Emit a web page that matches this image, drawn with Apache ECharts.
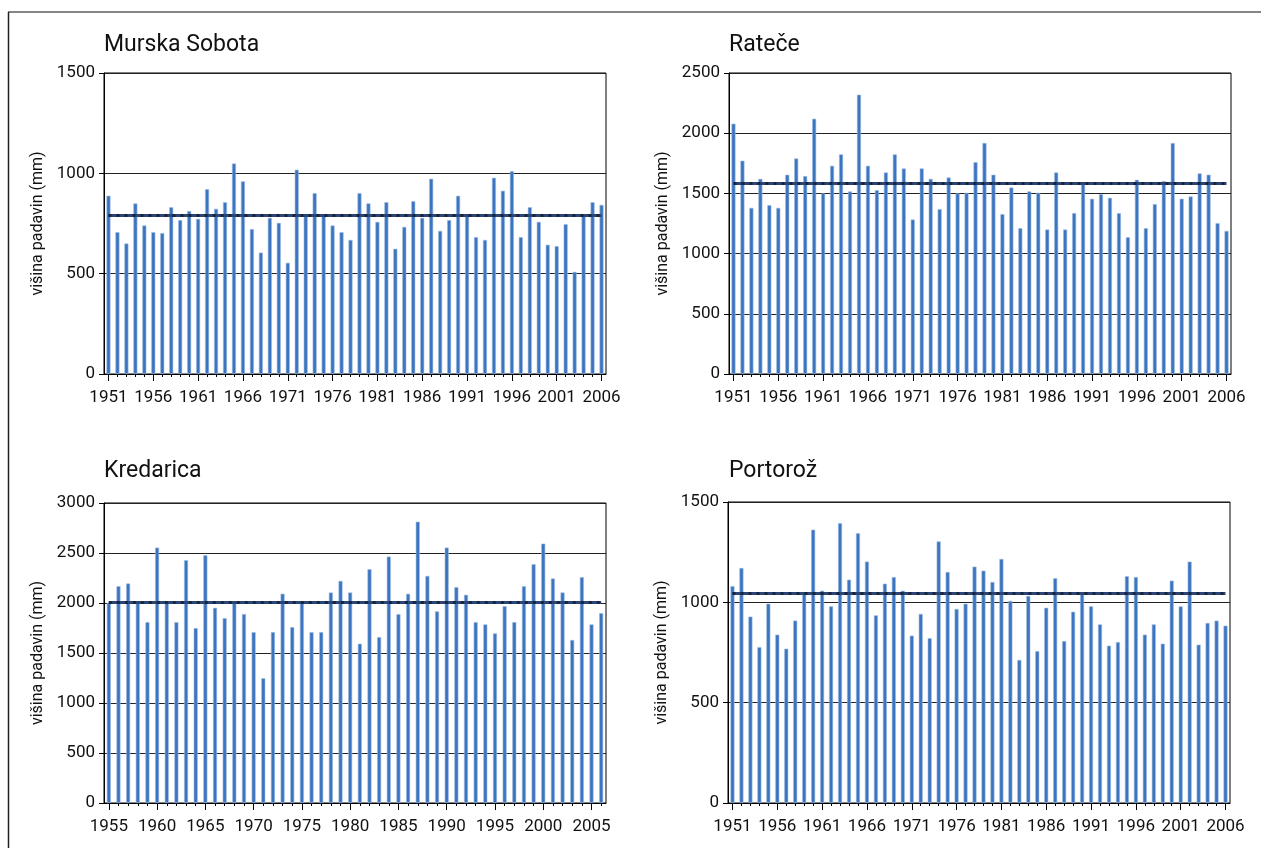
<!DOCTYPE html>
<html><head><meta charset="utf-8">
<script src="https://cdn.jsdelivr.net/npm/echarts@6/dist/echarts.min.js"></script>
<style>html,body{margin:0;padding:0;background:#fff}#c{width:1261px;height:848px}</style>
</head><body><div id="c"></div>
<script>
const years51 = ['1951','1952','1953','1954','1955','1956','1957','1958','1959','1960','1961','1962','1963','1964','1965','1966','1967','1968','1969','1970','1971','1972','1973','1974','1975','1976','1977','1978','1979','1980','1981','1982','1983','1984','1985','1986','1987','1988','1989','1990','1991','1992','1993','1994','1995','1996','1997','1998','1999','2000','2001','2002','2003','2004','2005','2006'];
const years55 = ['1955','1956','1957','1958','1959','1960','1961','1962','1963','1964','1965','1966','1967','1968','1969','1970','1971','1972','1973','1974','1975','1976','1977','1978','1979','1980','1981','1982','1983','1984','1985','1986','1987','1988','1989','1990','1991','1992','1993','1994','1995','1996','1997','1998','1999','2000','2001','2002','2003','2004','2005','2006'];

const murskaSobota = [888,707,650,850,740,707,702,831,767,812,773,921,823,856,1049,960,722,605,778,753,554,1018,797,901,797,740,707,668,901,850,758,856,624,733,861,778,973,713,767,888,797,682,668,978,913,1011,682,831,758,644,637,747,509,797,856,843];
const ratece = [2079,1771,1380,1621,1402,1380,1655,1790,1644,2120,1500,1729,1824,1516,2320,1729,1527,1674,1824,1707,1283,1707,1621,1369,1632,1500,1505,1760,1918,1655,1328,1549,1211,1516,1505,1200,1674,1200,1336,1591,1455,1494,1463,1336,1136,1613,1211,1411,1602,1918,1455,1474,1666,1655,1253,1189];
const kredarica = [2002,2168,2195,2015,1809,2554,2015,1809,2428,1749,2477,1952,1849,2015,1889,1709,1247,1709,2092,1759,2002,1709,1709,2105,2221,2105,1593,2338,1659,2464,1889,2092,2813,2271,1916,2554,2158,2082,1809,1786,1696,1969,1809,2168,2388,2594,2245,2105,1630,2258,1786,1899];
const portoroz = [1081,1171,929,777,993,839,769,909,1041,1362,1058,980,1394,1113,1344,1203,935,1093,1126,1058,834,942,821,1304,1151,967,993,1178,1158,1101,1216,1007,713,1032,757,973,1120,807,953,1050,980,890,784,802,1130,1126,839,890,794,1108,980,1203,789,897,909,884];

const titles = ['Murska Sobota','Rateče','Kredarica','Portorož'];
const yMax = [1500, 2500, 3000, 1500];
const meanAll = [793, 1583, 2005, 1045];
const meanRef = [793, 1583, 2005, 1045];
const yName = 'višina padavin (mm)';

const panels = [
  {cats: years51, vals: murskaSobota, grid:{left:104, top:73, width:502, height:301}, title:{left:104, top:34}},
  {cats: years51, vals: ratece,       grid:{left:729, top:73, width:502, height:301}, title:{left:729, top:34}},
  {cats: years55, vals: kredarica,    grid:{left:104, top:503, width:502, height:300}, title:{left:104, top:460}},
  {cats: years51, vals: portoroz,     grid:{left:728, top:502, width:502, height:301}, title:{left:729, top:460}}
];

const FONT = 'Roboto';
const option = {animation:false, backgroundColor:'#fff', title:[], grid:[], xAxis:[], yAxis:[], series:[],
  graphic:[
    {type:'line', shape:{x1:8,y1:12,x2:1261,y2:12}, style:{stroke:'#858585', lineWidth:2}},
    {type:'line', shape:{x1:8.5,y1:12,x2:8.5,y2:848}, style:{stroke:'#222', lineWidth:1.5}}
  ]};

panels.forEach((p, i) => {
  option.title.push({text: titles[i], left:p.title.left, top:p.title.top, padding:0,
    textStyle:{fontFamily:FONT, fontSize:23, fontWeight:'normal', color:'#111'}});
  option.grid.push(Object.assign({show:true, borderColor:'#000', borderWidth:1, backgroundColor:'transparent'}, p.grid));
  option.xAxis.push({type:'category', gridIndex:i, data:p.cats, boundaryGap:true,
    axisLine:{lineStyle:{color:'#000', width:1}},
    axisTick:{show:true, interval:0, alignWithLabel:true, length:3, lineStyle:{color:'#000'}},
    axisLabel:{interval:4, margin:15, fontFamily:FONT, fontSize:17, color:'#111'}, splitLine:{show:false}});
  option.xAxis.push({type:'category', gridIndex:i, data:p.cats, boundaryGap:true, position:'bottom',
    axisLine:{show:false}, axisLabel:{show:false}, splitLine:{show:false},
    axisTick:{show:true, interval:4, alignWithLabel:true, length:7, lineStyle:{color:'#000'}}});
  option.yAxis.push({type:'value', gridIndex:i, min:0, max:yMax[i], interval:500,
    name:yName, nameLocation:'middle', nameGap:58, nameRotate:90,
    nameTextStyle:{fontFamily:FONT, fontSize:16, color:'#111'},
    axisLine:{show:true, lineStyle:{color:'#000', width:1}},
    axisTick:{show:true, length:5, lineStyle:{color:'#000'}},
    axisLabel:{margin:9, fontFamily:FONT, fontSize:17, color:'#111', formatter: v => String(v)},
    splitLine:{show:true, lineStyle:{color:'#222', width:1}}});
  const first = p.cats[0], last = p.cats[p.cats.length-1];
  option.series.push({type:'bar', xAxisIndex:2*i, yAxisIndex:i, data:p.vals, barWidth:4,
    itemStyle:{color:'#3b74bf', borderColor:'#9dbbe2', borderWidth:0.6},
    markLine:{silent:true, symbol:['none','none'], label:{show:false}, animation:false,
      data:[
        [{coord:[first, meanAll[i]], lineStyle:{color:'#2b4676', width:3, type:'solid'}},
         {coord:[last, meanAll[i]]}],
        [{coord:[first, meanRef[i]], lineStyle:{color:'#17243d', width:3, type:[3,5]}},
         {coord:[last, meanRef[i]]}]
      ]}});
});

const chart = echarts.init(document.getElementById('c'), null, {renderer:'canvas'});
chart.setOption(option);
</script></body></html>
